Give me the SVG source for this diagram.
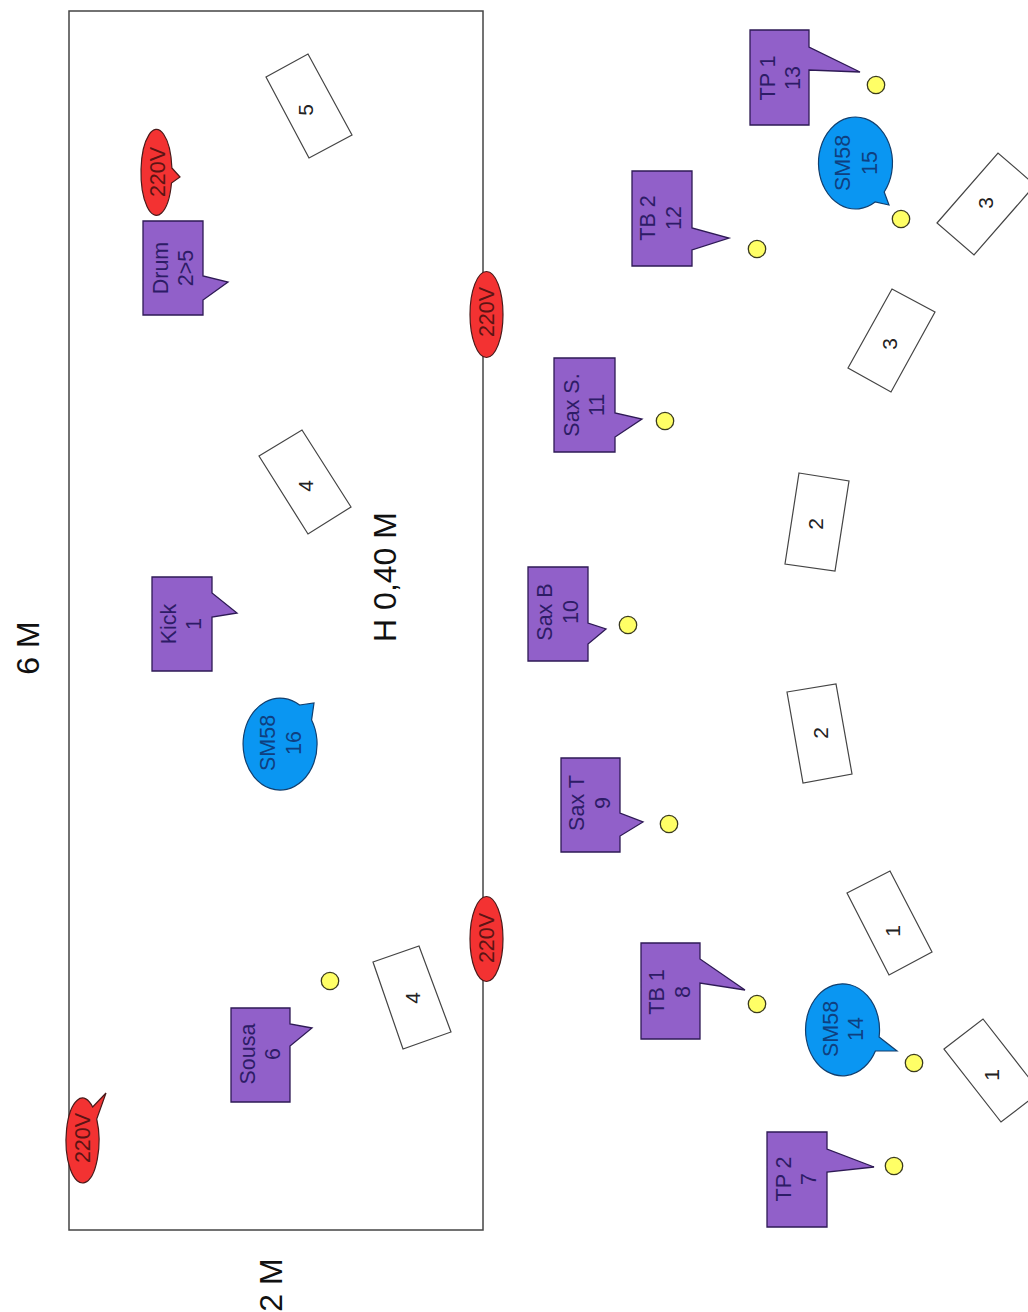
<svg xmlns="http://www.w3.org/2000/svg" width="1028" height="1312" viewBox="0 0 1028 1312">
<style>
text{font-family:"Liberation Sans",Arial,sans-serif;font-size:21.5px;text-anchor:middle}
.frame{fill:#fff;stroke:#444;stroke-width:1.5}
.p{fill:#9160c9;stroke:#2e1a55;stroke-width:1.3}
.pt{fill:#2d1c66}
.b{fill:#0a96f2;stroke:#123f6e;stroke-width:1.2}
.bt{fill:#0f3f80}
.r{fill:#f33232;stroke:#4a1a1a;stroke-width:1.2}
.rt{fill:#5c1414}
.w{fill:#fff;stroke:#444;stroke-width:1.2}
.wt{fill:#222;font-size:21px}
.y{fill:#ffff66;stroke:#3a3a20;stroke-width:1.3}
.big{fill:#111;font-size:32px}
</style>
<rect width="1028" height="1312" fill="#fff"/>
<rect id="stage" class="frame" x="69" y="11" width="414" height="1219"/>
<g id="connectors"/>

<g id="riser-5"><polygon class="w" points="266,77 308,54 352,135 309,158"/><text class="wt" transform="translate(312.500,110) rotate(-90)">5</text></g>
<g id="riser-4a"><polygon class="w" points="259,456 302,430 351,507 308,534"/><text class="wt" transform="translate(312.500,486) rotate(-90)">4</text></g>
<g id="riser-4b"><polygon class="w" points="373,962 419,946 451,1032 403,1049"/><text class="wt" transform="translate(419.500,998) rotate(-90)">4</text></g>
<g id="riser-3a"><polygon class="w" points="937,223 998,153 1035,185 974,255"/><text class="wt" transform="translate(992.500,203) rotate(-90)">3</text></g>
<g id="riser-3b"><polygon class="w" points="848,368 892,289 935,312 891,392"/><text class="wt" transform="translate(896.500,344) rotate(-90)">3</text></g>
<g id="riser-2a"><polygon class="w" points="799,473 849,481 835,571 785,564"/><text class="wt" transform="translate(822.500,524) rotate(-90)">2</text></g>
<g id="riser-2b"><polygon class="w" points="787,692 836,684 852,774 803,783"/><text class="wt" transform="translate(827.500,733) rotate(-90)">2</text></g>
<g id="riser-1a"><polygon class="w" points="847,893 890,871 932,952 889,975"/><text class="wt" transform="translate(899.500,931) rotate(-90)">1</text></g>
<g id="riser-1b"><polygon class="w" points="944,1049 983,1019 1040,1092 1001,1122"/><text class="wt" transform="translate(998.500,1075) rotate(-90)">1</text></g>

<g id="power-1"><path class="r" d="M171.9 168L180 177L171.5 183A15.5 43 0 1 1 171.9 168Z"/><text class="rt" transform="translate(165,172) rotate(-90)">220V</text></g>
<g id="power-2"><ellipse class="r" cx="486.5" cy="314.5" rx="16.5" ry="43"/><text class="rt" transform="translate(494,312) rotate(-90)">220V</text></g>
<g id="power-3"><ellipse class="r" cx="486.5" cy="939" rx="16.5" ry="42.5"/><text class="rt" transform="translate(494,938) rotate(-90)">220V</text></g>
<g id="power-4"><path class="r" d="M92.65 1107L106 1093L96.73 1119A16.5 42.5 0 1 1 92.65 1107Z"/><text class="rt" transform="translate(90,1138) rotate(-90)">220V</text></g>

<g id="drum"><polygon class="p" points="143,221 203,221 203,276 228,282 203,300 203,315 143,315"/><text class="pt" transform="translate(168,268) rotate(-90)">Drum</text><text class="pt" transform="translate(193,268) rotate(-90)">2&gt;5</text></g>
<g id="kick"><polygon class="p" points="152,577 212,577 212,593 237,613 212,617 212,671 152,671"/><text class="pt" transform="translate(176,624) rotate(-90)">Kick</text><text class="pt" transform="translate(201,624) rotate(-90)">1</text></g>
<g id="sousa"><polygon class="p" points="231,1008 290,1008 290,1024 312,1028 290,1046 290,1102 231,1102"/><text class="pt" transform="translate(255,1054) rotate(-90)">Sousa</text><text class="pt" transform="translate(280,1054) rotate(-90)">6</text></g>
<g id="tp2"><polygon class="p" points="767,1132 827,1132 827,1149 874,1167 827,1172 827,1227 767,1227"/><text class="pt" transform="translate(791,1179) rotate(-90)">TP 2</text><text class="pt" transform="translate(816,1179) rotate(-90)">7</text></g>
<g id="tb1"><polygon class="p" points="641,943 700,943 700,959 745,990 700,983 700,1039 641,1039"/><text class="pt" transform="translate(664,992) rotate(-90)">TB 1</text><text class="pt" transform="translate(690,992) rotate(-90)">8</text></g>
<g id="saxt"><polygon class="p" points="561,758 620,758 620,813 643,822 620,836 620,852 561,852"/><text class="pt" transform="translate(584,803) rotate(-90)">Sax T</text><text class="pt" transform="translate(610,803) rotate(-90)">9</text></g>
<g id="saxb"><polygon class="p" points="528,567 588,567 588,623 606,629 588,644 588,661 528,661"/><text class="pt" transform="translate(552,612) rotate(-90)">Sax B</text><text class="pt" transform="translate(578,612) rotate(-90)">10</text></g>
<g id="saxs"><polygon class="p" points="554,358 615,358 615,413 642,419 615,437 615,452 554,452"/><text class="pt" transform="translate(579,405) rotate(-90)">Sax S.</text><text class="pt" transform="translate(604,405) rotate(-90)">11</text></g>
<g id="tb2"><polygon class="p" points="632,171 692,171 692,228 729,238 692,250 692,266 632,266"/><text class="pt" transform="translate(655,218) rotate(-90)">TB 2</text><text class="pt" transform="translate(681,218) rotate(-90)">12</text></g>
<g id="tp1"><polygon class="p" points="750,30 809,30 809,47 860,72 809,70 809,125 750,125"/><text class="pt" transform="translate(775,78) rotate(-90)">TP 1</text><text class="pt" transform="translate(800,78) rotate(-90)">13</text></g>

<g id="sm58-14"><path class="b" d="M879.1 1037L897 1051L875.4 1051A37 46 0 1 1 879.1 1037Z"/><text class="bt" transform="translate(838,1029) rotate(-90)">SM58</text><text class="bt" transform="translate(863,1029) rotate(-90)">14</text></g>
<g id="sm58-15"><path class="b" d="M884.2 192L889 205L875.1 202A37 46 0 1 1 884.2 192Z"/><text class="bt" transform="translate(850,163) rotate(-90)">SM58</text><text class="bt" transform="translate(877,163) rotate(-90)">15</text></g>
<g id="sm58-16"><path class="b" d="M299.6 705L314 703L311.6 720A37 46 0 1 1 299.6 705Z"/><text class="bt" transform="translate(275,743) rotate(-90)">SM58</text><text class="bt" transform="translate(301,743) rotate(-90)">16</text></g>

<g id="mic-1"><circle class="y" cx="876" cy="85" r="8.7"/></g>
<g id="mic-2"><circle class="y" cx="901" cy="219" r="8.7"/></g>
<g id="mic-3"><circle class="y" cx="757" cy="249" r="8.7"/></g>
<g id="mic-4"><circle class="y" cx="665" cy="421" r="8.7"/></g>
<g id="mic-5"><circle class="y" cx="628" cy="625" r="8.7"/></g>
<g id="mic-6"><circle class="y" cx="669" cy="824" r="8.7"/></g>
<g id="mic-7"><circle class="y" cx="757" cy="1004" r="8.7"/></g>
<g id="mic-8"><circle class="y" cx="914" cy="1063" r="8.7"/></g>
<g id="mic-9"><circle class="y" cx="894" cy="1166" r="8.7"/></g>
<g id="mic-10"><circle class="y" cx="330" cy="981" r="8.7"/></g>

<text class="big" transform="translate(39,648) rotate(-90)">6 M</text>
<text class="big" transform="translate(396,577) rotate(-90)">H 0,40 M</text>
<text class="big" transform="translate(282,1285) rotate(-90)">2 M</text>
</svg>
